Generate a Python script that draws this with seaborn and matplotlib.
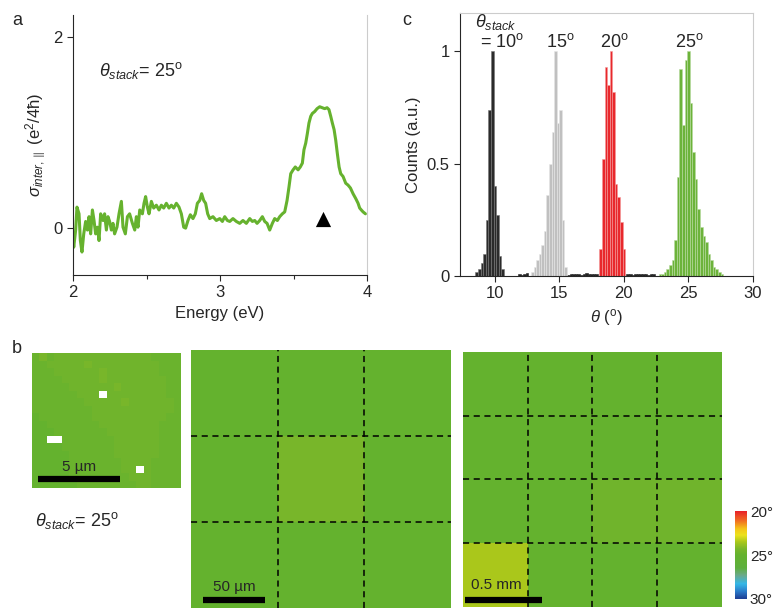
import numpy as np
import matplotlib
matplotlib.use("Agg")
import matplotlib.pyplot as plt
import seaborn as sns
from matplotlib.colors import LinearSegmentedColormap
from matplotlib.ticker import MultipleLocator

sns.set_style("ticks")
plt.rcParams['font.family'] = ['Liberation Sans', 'DejaVu Sans']
plt.rcParams['mathtext.fontset'] = 'custom'
plt.rcParams['mathtext.rm'] = 'Liberation Sans'
plt.rcParams['mathtext.it'] = 'Liberation Sans:italic'
plt.rcParams['mathtext.bf'] = 'Liberation Sans:bold'
plt.rcParams['font.size'] = 12

# ---- panel a : interlayer conductivity spectrum ----
energy = [2.000, 2.005, 2.018, 2.027, 2.041, 2.050, 2.061, 2.073, 2.086, 2.098,
          2.109, 2.120, 2.132, 2.143, 2.154, 2.166, 2.177, 2.188, 2.204, 2.215,
          2.227, 2.238, 2.249, 2.261, 2.272, 2.283, 2.299, 2.313, 2.329, 2.340,
          2.356, 2.370, 2.385, 2.404, 2.420, 2.431, 2.442, 2.454, 2.472, 2.483,
          2.494, 2.506, 2.517, 2.533, 2.549, 2.567, 2.585, 2.601, 2.617, 2.635,
          2.653, 2.669, 2.685, 2.703, 2.721, 2.737, 2.753, 2.766, 2.782, 2.798,
          2.816, 2.832, 2.846, 2.862, 2.875, 2.889, 2.902, 2.916, 2.930, 2.952,
          2.975, 2.998, 3.016, 3.032, 3.050, 3.066, 3.088, 3.111, 3.134, 3.156,
          3.179, 3.202, 3.220, 3.236, 3.252, 3.270, 3.288, 3.304, 3.320, 3.338,
          3.356, 3.372, 3.390, 3.406, 3.424, 3.440, 3.456, 3.469, 3.481, 3.497,
          3.512, 3.531, 3.546, 3.560, 3.571, 3.583, 3.594, 3.605, 3.617, 3.628,
          3.644, 3.660, 3.678, 3.694, 3.712, 3.728, 3.741, 3.753, 3.764, 3.776,
          3.787, 3.798, 3.810, 3.821, 3.837, 3.855, 3.871, 3.887, 3.905, 3.923,
          3.939, 3.950, 3.961, 3.973, 3.989]
sigma = [-0.11, -0.20, -0.02, 0.22, 0.15, -0.13, -0.25, -0.06, 0.07, -0.02,
         0.12, -0.06, 0.19, 0.08, -0.06, 0.01, -0.13, 0.15, 0.08, 0.15,
         -0.02, 0.12, 0.07, -0.02, 0.05, -0.06, 0.01, 0.15, 0.28, 0.01,
         -0.06, 0.12, 0.15, 0.05, -0.02, 0.12, 0.01, 0.19, 0.15, 0.26,
         0.33, 0.22, 0.15, 0.28, 0.21, 0.24, 0.19, 0.24, 0.21, 0.26,
         0.21, 0.24, 0.21, 0.26, 0.22, 0.15, 0.01, 0.00, 0.08, 0.14,
         0.10, 0.15, 0.26, 0.29, 0.36, 0.29, 0.26, 0.15, 0.10, 0.12,
         0.08, 0.10, 0.07, 0.12, 0.08, 0.07, 0.10, 0.07, 0.05, 0.08,
         0.05, 0.10, 0.07, 0.08, 0.05, 0.08, 0.12, 0.07, 0.05, -0.02,
         0.05, 0.10, 0.08, 0.12, 0.15, 0.17, 0.29, 0.43, 0.57, 0.61,
         0.64, 0.61, 0.64, 0.68, 0.82, 0.89, 0.99, 1.10, 1.17, 1.20,
         1.22, 1.25, 1.27, 1.26, 1.25, 1.26, 1.24, 1.17, 1.10, 1.03,
         0.92, 0.78, 0.64, 0.57, 0.54, 0.47, 0.45, 0.42, 0.36, 0.31,
         0.26, 0.21, 0.19, 0.17, 0.15]
peak_E = [3.70]
peak_sigma = [0.10]

# ---- panel c : twist angle histograms (bin width 0.2 deg) ----
theta_10 = [8.6, 8.8, 9.0, 9.2, 9.4, 9.6, 9.8, 10.0, 10.2, 10.4, 10.6]
counts_10 = [0.02, 0.03, 0.06, 0.10, 0.25, 0.74, 1.00, 0.40, 0.27, 0.09, 0.03]
theta_15 = [12.9, 13.1, 13.3, 13.5, 13.7, 13.9, 14.1, 14.3, 14.5, 14.7, 14.9, 15.1, 15.3, 15.5]
counts_15 = [0.02, 0.04, 0.07, 0.10, 0.14, 0.20, 0.36, 0.50, 0.64, 1.00, 0.68, 0.74, 0.25, 0.04]
theta_20 = [18.2, 18.4, 18.6, 18.8, 19.0, 19.2, 19.4, 19.6, 19.8, 20.0]
counts_20 = [0.12, 0.52, 0.93, 0.85, 1.00, 0.82, 0.41, 0.35, 0.24, 0.12]
theta_25 = [22.8, 23.0, 23.2, 23.4, 23.6, 23.8, 24.0, 24.2, 24.4, 24.6, 24.8, 25.0, 25.2,
            25.4, 25.6, 25.8, 26.0, 26.2, 26.4, 26.6, 26.8, 27.0, 27.2, 27.4, 27.6]
counts_25 = [0.01, 0.01, 0.02, 0.03, 0.05, 0.07, 0.16, 0.44, 0.92, 0.67, 0.96, 1.00, 0.77,
             0.55, 0.43, 0.30, 0.22, 0.18, 0.15, 0.10, 0.07, 0.04, 0.03, 0.02, 0.01]
theta_bg = [11.9, 12.1, 12.3, 12.5, 15.7, 15.9, 16.1, 16.3, 16.5, 16.7, 16.9, 17.1, 17.3,
            17.5, 17.7, 17.9, 20.3, 20.5, 20.7, 20.9, 21.1, 21.3, 21.5, 21.7, 21.9, 22.1, 22.3]
counts_bg = [0.010, 0.006, 0.008, 0.012, 0.006, 0.010, 0.008, 0.007, 0.011, 0.006, 0.009, 0.012, 0.007,
             0.010, 0.008, 0.011, 0.007, 0.010, 0.006, 0.009, 0.011, 0.007, 0.010, 0.008, 0.006, 0.010, 0.008]

# ---- panel b : twist angle maps (deg) ----
small_rows = ["cacbbbbbbbbbbbbbcccc",
              "ccbbbbbabbbbbbbbbccc",
              "cccbbbbbbabbbbbbbccc",
              "ccccbbbbbabbbbbbbbcc",
              "cccccbbbbbbabbbbbbcc",
              "ccccccbbb.bbbbbbbbcc",
              "cccccccbbbbbabbbbbbc",
              "ccccccccbbbbbbbbbbbc",
              "dcccccccbbbbbbbbbbcc",
              "ddcccccccbbbbbbbbccc",
              "dddcccccccbbbbbbbccc",
              "dd..cccccccbbbbbbccc",
              "ddddcccccccbbbbbbccc",
              "dddddccccccbbbbbbccc",
              "dddddcccccccbbbbcccc",
              "dddddcccccccbb.bcccc",
              "dddddccccccccbbbcccc",
              "ddddddccccccccbbcccc"]
level = {'a': 24.3, 'b': 24.6, 'c': 24.8, 'd': 25.0, '.': np.nan}
map_small = np.array([[level[ch] for ch in row] for row in small_rows])

map_mid = np.array([[25.0, 25.0, 25.0],
                    [25.0, 24.3, 25.0],
                    [25.0, 25.0, 25.0]])
map_big = np.array([[25.0, 25.0, 25.0, 25.0],
                    [25.0, 25.0, 25.0, 25.0],
                    [25.0, 25.0, 24.6, 24.6],
                    [23.5, 25.0, 25.0, 25.0]])

twist_cmap = LinearSegmentedColormap.from_list("twist", [
    (0.00, '#e8232a'), (0.10, '#f06a22'), (0.20, '#f5c518'), (0.27, '#ece21d'),
    (0.35, '#a9c71b'), (0.43, '#78b62a'), (0.50, '#64b22e'), (0.65, '#5daf3e'),
    (0.73, '#6aa98a'), (0.83, '#35b7e6'), (0.92, '#2a78c8'), (1.00, '#1e3f94')])

fig = plt.figure(figsize=(7.75, 6.12), dpi=100)
fig.patch.set_facecolor('white')

# panel a
ax_a = fig.add_axes([0.0942, 0.5507, 0.3794, 0.4248])
sns.lineplot(x=energy, y=sigma, ax=ax_a, color='#66b22e', linewidth=2.2)
sns.scatterplot(x=peak_E, y=peak_sigma, ax=ax_a, marker='^', s=120, color='black', linewidth=0)
ax_a.set_xlim(2, 4)
ax_a.set_ylim(-0.49, 2.23)
ax_a.set_xticks([2, 3, 4])
ax_a.xaxis.set_minor_locator(MultipleLocator(0.5))
ax_a.set_yticks([0, 2])
ax_a.set_xlabel("Energy (eV)")
ax_a.set_ylabel(r"$\sigma_{inter,\parallel}$ (e$^2$/4ħ)")
ax_a.text(2.18, 1.65, r"$\theta_{stack}$= 25$^{\rm o}$", fontsize=13, va='center')
ax_a.spines['top'].set_visible(False)
ax_a.spines['right'].set_color('#cccccc')

# panel c
ax_c = fig.add_axes([0.5935, 0.549, 0.378, 0.4297])
for th, cnt, col, edge in [(theta_bg, counts_bg, '#222222', '#222222'),
                           (theta_10, counts_10, '#2b2b2b', '#777777'),
                           (theta_15, counts_15, '#c0c0c0', '#e6e6e6'),
                           (theta_20, counts_20, '#e8282c', '#f39a9a'),
                           (theta_25, counts_25, '#6cb33a', '#b8dba0')]:
    sns.histplot(x=th, weights=cnt, binwidth=0.2, binrange=(min(th) - 0.1, max(th) + 0.1),
                 color=col, edgecolor=edge, linewidth=0.4, alpha=1, ax=ax_c)
ax_c.set_xlim(7.3, 30)
ax_c.set_ylim(0, 1.17)
ax_c.set_xticks([10, 15, 20, 25, 30])
ax_c.set_yticks([0, 0.5, 1])
ax_c.set_yticklabels(["0", "0.5", "1"])
ax_c.set_xlabel(r"$\theta$ ($^{\rm o}$)")
ax_c.set_ylabel("Counts (a.u.)")
ax_c.spines['top'].set_color('#cccccc')
ax_c.spines['right'].set_color('#cccccc')
ax_c.text(10.1, 1.13, r"$\theta_{stack}$", ha='center', va='center', fontsize=13)
ax_c.text(10.6, 1.04, r"= 10$^{\rm o}$", ha='center', va='center', fontsize=13)
ax_c.text(15.1, 1.04, r"15$^{\rm o}$", ha='center', va='center', fontsize=13)
ax_c.text(19.3, 1.04, r"20$^{\rm o}$", ha='center', va='center', fontsize=13)
ax_c.text(25.1, 1.04, r"25$^{\rm o}$", ha='center', va='center', fontsize=13)

for ax in (ax_a, ax_c):
    ax.tick_params(labelsize=12, direction='out', length=4, width=0.8)
    ax.tick_params(which='minor', direction='out', length=3, width=0.8)
    ax.spines['left'].set_linewidth(0.8)
    ax.spines['bottom'].set_linewidth(0.8)

# panel b
ax_b1 = fig.add_axes([0.0413, 0.2026, 0.1923, 0.2206])
sns.heatmap(map_small, ax=ax_b1, cmap=twist_cmap, vmin=20, vmax=30, cbar=False,
            xticklabels=False, yticklabels=False)
ax_b1.plot([0.8, 11.8], [16.8, 16.8], color='black', lw=4.5, solid_capstyle='butt')
ax_b1.text(6.3, 16.1, "5 µm", ha='center', va='bottom', fontsize=11)

ax_b2 = fig.add_axes([0.2465, 0.0065, 0.3355, 0.4216])
sns.heatmap(map_mid, ax=ax_b2, cmap=twist_cmap, vmin=20, vmax=30, cbar=False,
            xticklabels=False, yticklabels=False)
for k in [1, 2]:
    ax_b2.axvline(k, color='black', ls=(0, (4, 3)), lw=1.1)
    ax_b2.axhline(k, color='black', ls=(0, (4, 3)), lw=1.1)
ax_b2.plot([0.14, 0.85], [2.91, 2.91], color='black', lw=4.5, solid_capstyle='butt')
ax_b2.text(0.50, 2.84, "50 µm", ha='center', va='bottom', fontsize=11)

ax_b3 = fig.add_axes([0.5974, 0.0082, 0.3342, 0.4167])
cax = fig.add_axes([0.9484, 0.0215, 0.0155, 0.143])
sns.heatmap(map_big, ax=ax_b3, cmap=twist_cmap, vmin=20, vmax=30, cbar_ax=cax,
            cbar_kws={'ticks': [20, 25, 30]}, xticklabels=False, yticklabels=False)
for k in [1, 2, 3]:
    ax_b3.axvline(k, color='black', ls=(0, (4, 3)), lw=1.1)
    ax_b3.axhline(k, color='black', ls=(0, (4, 3)), lw=1.1)
ax_b3.plot([0.03, 1.22], [3.89, 3.89], color='black', lw=4.5, solid_capstyle='butt')
ax_b3.text(0.51, 3.77, "0.5 mm", ha='center', va='bottom', fontsize=11)
cax.invert_yaxis()
cax.set_yticklabels(["20°", "25°", "30°"])
cax.tick_params(length=0, labelsize=11, pad=2)

fig.text(0.0155, 0.959, "a", fontsize=13)
fig.text(0.519, 0.959, "c", fontsize=13)
fig.text(0.0155, 0.423, "b", fontsize=13)
fig.text(0.045, 0.150, r"$\theta_{stack}$= 25$^{\rm o}$", fontsize=13, va='center')

fig.savefig("out.png", dpi=100, facecolor='white')
